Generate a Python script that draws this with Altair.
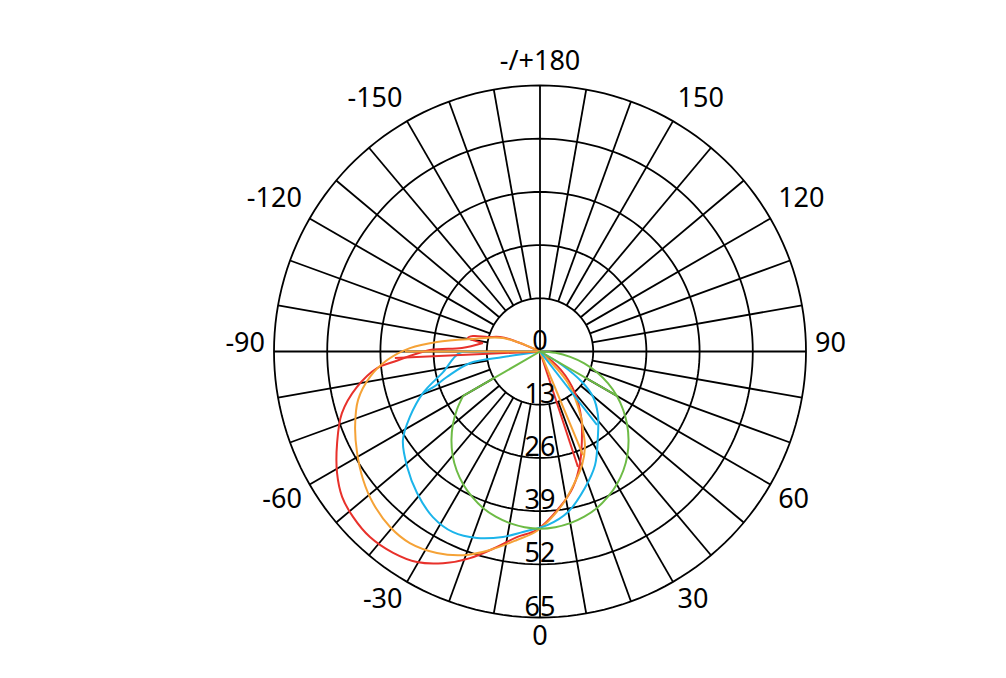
import altair as alt
import pandas as pd

# ---- curve data: angle (deg, 0 = down, +90 = right) and value, in drawing order ----
# red: upper arc up to the notch, then the main lobe
RED_A_ANG = [-115, -112.3, -109.9, -105.6, -103.0, -100.6, -98.5]
RED_A_VAL = [0, 7.4, 10.4, 13.2, 16.8, 17.9, 14.1]
RED_B_ANG = [-98.5, -92.6, -90.8, -85.9, -84.2, -79.0, -72.7, -65.7, -59.1, -53.7,
             -48.5, -42.5, -36.1, -30.3, -24.6, -18.7, -12.4, -7.1, -1.0, 7.3, 13.7, 19.7,
             28.1, 32.0, 40.1, 48.6, 58]
RED_B_VAL = [14.1, 19.1, 26.9, 36.0, 40.0, 45.6, 50.7, 54.4, 57.8, 60.0,
             61.0, 61.5, 60.9, 59.6, 56.9, 53.3, 48.9, 45.7, 43.6, 38.3, 34.1, 29.0,
             21.8, 19.0, 13.3, 6.8, 0]

ORANGE_ANG = [-113, -110.1, -100.4, -95.3, -91.5, -86.8, -81.5, -75.1, -67.8, -61.0, -54.0,
              -47.8, -40.5, -34.2, -27.1, -20.7, -14.1, -7.0, -0.9, 8.2, 15.0, 20.3, 25.2,
              28.7, 32.0, 41.6, 52]
ORANGE_VAL = [0, 9.6, 16.9, 25.3, 31.8, 37.4, 42.0, 46.0, 48.8, 51.1, 53.4,
              55.1, 56.4, 56.6, 55.3, 53.2, 50.0, 46.4, 43.8, 37.9, 33.0, 29.6, 25.8,
              21.9, 18.9, 10.3, 0]

# blue: short inner branch, then the main lobe
BLUE_A_ANG = [-85, -81.5, -80.7, -74.7, -71.5, -70.5]
BLUE_A_VAL = [0, 9.1, 17.3, 23.6, 27.5, 30.3]
BLUE_B_ANG = [-90, -89.5, -89.0, -78.0, -70.5, -63.3, -57.1, -49.0, -41.0, -32.9, -25.7,
              -18.7, -11.3, -5.4, 2.6, 9.9, 18.2, 25.9, 33.8, 42.4, 49.4, 54.0, 58.5, 63]
BLUE_B_VAL = [0, 13.0, 19.6, 24.2, 30.3, 35.6, 39.9, 43.0, 45.8, 48.2, 49.0,
              48.1, 46.2, 44.3, 42.4, 39.8, 35.1, 30.8, 25.4, 21.0, 17.1, 12.7, 6.3, 0]

GREEN_ANG = [-60, -55, -50, -45, -40, -35, -30, -25, -20, -15, -10, -5, 0, 5, 10, 15, 20,
             25, 30, 35, 40, 45, 50, 55, 60, 65, 70, 75, 80, 85, 90]
GREEN_VAL = [21.7, 24.8, 27.8, 30.6, 33.2, 35.5, 37.5, 39.2, 40.7, 41.8, 42.6, 43.1, 43.3,
             43.1, 42.6, 41.8, 40.7, 39.2, 37.5, 35.5, 33.2, 30.6, 27.8, 24.8, 21.7, 18.3,
             14.8, 11.2, 7.5, 3.8, 0]

# straight radial strokes from the centre
SPOKE_SERIES = ["red", "red", "orange", "orange", "blue", "green", "green"]
SPOKE_ANG = [18.2, -87.4, 22.6, -90.0, 37.8, 60, -60]
SPOKE_VAL = [29.7, 35.5, 27.4, 33.0, 22.7, 21.7, 21.7]

SERIES = ["red", "orange", "blue", "green"]
COLORS = ["#e8312b", "#f5a236", "#1bb4ea", "#6dbb45"]

RING_VALUES = [13, 26, 39, 52, 65]
RADIAL_TEXT = ["0", "13", "26", "39", "52", "65"]
RADIAL_VAL = [0, 13, 26, 39, 52, 65]
ANGLE_TICKS = [0, 30, 60, 90, 120, 150, 180, -150, -120, -90, -60, -30]
ANGLE_TEXT = ["0", "30", "60", "90", "120", "150", "-/+180", "-150", "-120", "-90", "-60", "-30"]

# ---- build tables ----
rows = []
for name, part, angs, vals in [("red", "a", RED_A_ANG, RED_A_VAL), ("red", "b", RED_B_ANG, RED_B_VAL),
                               ("orange", "a", ORANGE_ANG, ORANGE_VAL),
                               ("blue", "a", BLUE_A_ANG, BLUE_A_VAL), ("blue", "b", BLUE_B_ANG, BLUE_B_VAL),
                               ("green", "a", GREEN_ANG, GREEN_VAL)]:
    for i, (a, v) in enumerate(zip(angs, vals)):
        rows.append({"series": name, "key": name + part, "order": i, "angle": a, "value": v})
curves = pd.DataFrame(rows)
spokes = pd.DataFrame({"series": SPOKE_SERIES, "angle": SPOKE_ANG, "value": SPOKE_VAL})
radial = pd.DataFrame({"t": RADIAL_TEXT, "v": RADIAL_VAL})
angles = pd.DataFrame({"a": ANGLE_TICKS, "t": ANGLE_TEXT})

XS = alt.Scale(domain=[-65, 65], nice=False, zero=False)
YS = alt.Scale(domain=[-65, 65], nice=False, zero=False)
color = alt.Color("series:N", scale=alt.Scale(domain=SERIES, range=COLORS), legend=None)
FONT = "Noto Sans"
FS = 27

layers = []

# rings
for R in RING_VALUES:
    ring = alt.Chart(alt.sequence(0, 362, 2, as_="a")).transform_calculate(
        x=f"{R}*sin(datum.a*PI/180)", y=f"{R}*cos(datum.a*PI/180)"
    ).mark_line(color="black", strokeWidth=1.8).encode(
        x=alt.X("x:Q", scale=XS, axis=None),
        y=alt.Y("y:Q", scale=YS, axis=None),
        order="a:Q",
    )
    layers.append(ring)

# grid spokes every 10 degrees
grid = alt.Chart(alt.sequence(-180, 180, 10, as_="a")).transform_calculate(
    r0="abs(datum.a) % 90 == 0 ? 0 : 13",
).transform_calculate(
    x0="datum.r0*sin(datum.a*PI/180)", y0="-datum.r0*cos(datum.a*PI/180)",
    x1="65*sin(datum.a*PI/180)", y1="-65*cos(datum.a*PI/180)",
).mark_rule(color="black", strokeWidth=1.8).encode(
    x=alt.X("x0:Q", scale=XS, axis=None),
    y=alt.Y("y0:Q", scale=YS, axis=None),
    x2="x1:Q", y2="y1:Q",
)
layers.append(grid)

# curves
curve = alt.Chart(curves).transform_calculate(
    x="datum.value*sin(datum.angle*PI/180)", y="-datum.value*cos(datum.angle*PI/180)"
).mark_line(strokeWidth=2, interpolate="catmull-rom").encode(
    x=alt.X("x:Q", scale=XS, axis=None),
    y=alt.Y("y:Q", scale=YS, axis=None),
    color=color, detail="key:N", order="order:Q",
)
layers.append(curve)

spk = alt.Chart(spokes).transform_calculate(
    x0="0", y0="0",
    x1="datum.value*sin(datum.angle*PI/180)", y1="-datum.value*cos(datum.angle*PI/180)"
).mark_rule(strokeWidth=2).encode(
    x=alt.X("x0:Q", scale=XS, axis=None),
    y=alt.Y("y0:Q", scale=YS, axis=None),
    x2="x1:Q", y2="y1:Q", color=color,
)
layers.append(spk)

# radial labels
rad = alt.Chart(radial).transform_calculate(x="0", y="-datum.v").mark_text(
    font=FONT, fontSize=FS, align="center", baseline="alphabetic", dy=-2, color="black"
).encode(
    x=alt.X("x:Q", scale=XS, axis=None),
    y=alt.Y("y:Q", scale=YS, axis=None),
    text="t:N",
)
layers.append(rad)

# angle labels
base_ang = alt.Chart(angles).transform_calculate(
    off="abs(datum.a) < 90 ? 18.5 : (abs(datum.a) == 90 ? 0.5 : -6.5)"
).transform_calculate(
    x="67.2*sin(datum.a*PI/180)",
    y="-67.2*cos(datum.a*PI/180) - datum.off/4.0923",
)
for flt, al in [("datum.a == 0 || datum.a == 180", "center"),
                ("datum.a > 0 && datum.a < 180", "left"),
                ("datum.a < 0", "right")]:
    layers.append(
        base_ang.transform_filter(flt).mark_text(
            font=FONT, fontSize=FS, align=al, baseline="alphabetic", color="black"
        ).encode(
            x=alt.X("x:Q", scale=XS, axis=None),
            y=alt.Y("y:Q", scale=YS, axis=None),
            text="t:N",
        )
    )

chart = alt.layer(*layers).properties(
    width=532, height=532,
    autosize=alt.AutoSizeParams(type="none"),
    padding={"left": 266, "top": 77.5, "right": 192, "bottom": 50.5},
).configure_view(strokeWidth=0)

chart.save("out.html", embed_options={"renderer": "svg", "actions": False})
